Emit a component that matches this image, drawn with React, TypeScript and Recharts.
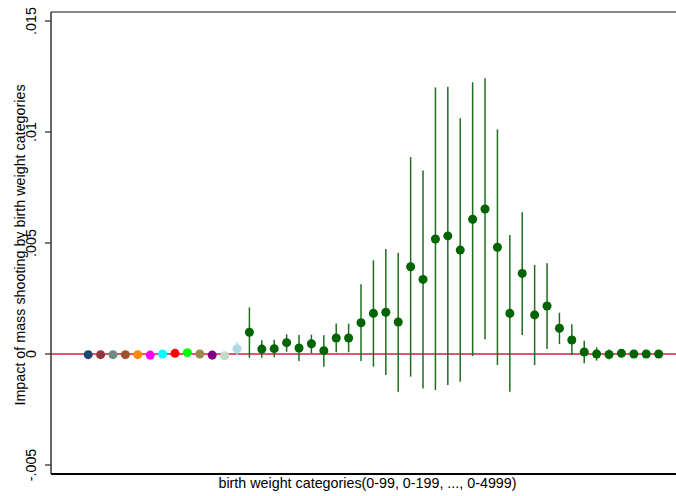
import React from "react";
import {
  ComposedChart,
  Scatter,
  XAxis,
  YAxis,
  ErrorBar,
  ReferenceLine,
  Cell,
} from "recharts";

// Leading category estimates (no visible CI), categories 1..12
const leadIdx = [1, 2, 3, 4, 5, 6, 7, 8, 9, 10, 11, 12];
const leadVals = [-0.00003, -0.00003, -0.00003, -0.00003, -0.00003, -0.00005, 0.0, 0.00003, 0.00006, 0.0, -0.00005, -0.00008];
const leadColors = [
  "#1a476f", "#90353b", "#6e8e84", "#a0522d", "#ff8c00", "#ff00ff",
  "#00ffff", "#ff0000", "#00ff00", "#9c8847", "#800080", "#c3dcc3",
];

// Category 13 (light blue)
const blueIdx = [13];
const blueVals = [0.00024];
const blueLow = [-0.00005];
const blueHigh = [0.00053];

// Categories 14..47 (dark green)
const greenIdx = [
  14, 15, 16, 17, 18, 19, 20, 21, 22, 23, 24, 25, 26, 27, 28, 29, 30,
  31, 32, 33, 34, 35, 36, 37, 38, 39, 40, 41, 42, 43, 44, 45, 46, 47,
];
const greenVals = [
  0.00098, 0.00022, 0.00024, 0.00051, 0.00027, 0.00046, 0.00015, 0.00072, 0.00072, 0.00141,
  0.00183, 0.00188, 0.00144, 0.00393, 0.00336, 0.00518, 0.00532, 0.00468, 0.00607, 0.00653,
  0.00481, 0.00183, 0.00363, 0.00176, 0.00216, 0.00116, 0.00063, 0.00009, 0.0, -0.00002,
  0.00003, 0.0, 0.0, 0.0,
];
const greenLow = [
  -0.00017, -0.00017, -0.00015, 0.0001, -0.00032, 0.00003, -0.00057, 0.00008, 0.00008, -0.00032,
  -0.00057, -0.00095, -0.0017, -0.00102, -0.00155, -0.00162, -0.0014, -0.00125, -0.00009, 0.00066,
  -0.0005, -0.0017, 0.00086, -0.0005, 0.00023, 0.00045, -0.00005, -0.00042, -0.0003, -0.00024,
  -0.00007, -0.0001, -0.00008, -0.00008,
];
const greenHigh = [
  0.0021, 0.00062, 0.00064, 0.00089, 0.00086, 0.00087, 0.00084, 0.00137, 0.00137, 0.00314,
  0.00422, 0.00473, 0.00456, 0.00887, 0.00827, 0.012, 0.01204, 0.01062, 0.01224, 0.01242,
  0.01012, 0.00536, 0.00638, 0.00401, 0.00409, 0.00186, 0.00134, 0.0006, 0.0003, 0.0002,
  0.00013, 0.0001, 0.00008, 0.00008,
];

const yTicks = [-0.005, 0, 0.005, 0.01, 0.015];
const yTickLabels = ["-.005", "0", ".005", ".01", ".015"];
const Y_MIN = -0.005405;
const Y_MAX = 0.015405;
const X_MIN = -2;
const X_MAX = 48.4;

const yLabel = "Impact of mass shooting by birth weight categories";
const xLabel = "birth weight categories(0-99, 0-199, ..., 0-4999)";

const FONT = "'Liberation Sans', Arial, sans-serif";
const FS = 14.3;

const leadData = leadIdx.map((x, i) => ({ x, y: leadVals[i] }));
const blueData = blueIdx.map((x, i) => ({
  x,
  y: blueVals[i],
  err: [blueVals[i] - blueLow[i], blueHigh[i] - blueVals[i]],
}));
const greenData = greenIdx.map((x, i) => ({
  x,
  y: greenVals[i],
  err: [greenVals[i] - greenLow[i], greenHigh[i] - greenVals[i]],
}));

const YTick = (props: any) => {
  const { x, y, payload } = props;
  const idx = yTicks.indexOf(payload.value);
  const label = idx >= 0 ? yTickLabels[idx] : String(payload.value);
  return (
    <g>
      <line x1={x + 2} x2={x + 8} y1={y} y2={y} stroke="#333" strokeWidth={1.3} />
      <text
        x={x - 12}
        y={y}
        transform={`rotate(-90, ${x - 12}, ${y})`}
        textAnchor="middle"
        dominantBaseline="central"
        fontSize={FS}
        fontFamily={FONT}
        fill="#000"
      >
        {label}
      </text>
    </g>
  );
};

const YLabel = (props: any) => {
  const vb = props.viewBox || {};
  const cx = (vb.x ?? 8) + 12;
  const cy = (vb.y ?? 12) + (vb.height ?? 462) / 2 + 2;
  return (
    <text
      x={cx}
      y={cy}
      transform={`rotate(-90, ${cx}, ${cy})`}
      textAnchor="middle"
      dominantBaseline="central"
      fontSize={FS}
      fontFamily={FONT}
      fill="#000"
    >
      {yLabel}
    </text>
  );
};

const XLabel = (props: any) => {
  const vb = props.viewBox || {};
  const cx = (vb.x ?? 51) + (vb.width ?? 625) / 2 + 4;
  const cy = (vb.y ?? 474) + 9;
  return (
    <text
      x={cx}
      y={cy}
      textAnchor="middle"
      dominantBaseline="central"
      fontSize={FS}
      fontFamily={FONT}
      fill="#000"
    >
      {xLabel}
    </text>
  );
};

export default function App() {
  return (
    <div style={{ position: "absolute", left: 0, top: 0, width: 676, height: 496, background: "#fff" }}>
      <ComposedChart
        width={676}
        height={496}
        margin={{ top: 12, right: 0, bottom: 0, left: 8 }}
      >
        <XAxis
          type="number"
          dataKey="x"
          domain={[X_MIN, X_MAX]}
          allowDataOverflow
          ticks={[]}
          tick={false}
          tickLine={false}
          height={22}
          axisLine={{ stroke: "#000", strokeWidth: 2 }}
          label={<XLabel />}
        />
        <YAxis
          type="number"
          dataKey="y"
          domain={[Y_MIN, Y_MAX]}
          allowDataOverflow
          ticks={yTicks}
          interval={0}
          width={43}
          tickLine={false}
          tick={<YTick />}
          axisLine={{ stroke: "#333", strokeWidth: 1.5 }}
          label={<YLabel />}
        />
        <ReferenceLine y={Y_MAX} stroke="#888" strokeWidth={2} />
        <ReferenceLine y={0} stroke="#dc1848" strokeWidth={1.5} />
        <Scatter data={leadData} isAnimationActive={false} shape="circle">
          {leadData.map((d, i) => (
            <Cell key={i} fill={leadColors[i]} />
          ))}
        </Scatter>
        <Scatter data={blueData} fill="#add8e6" isAnimationActive={false}>
          <ErrorBar dataKey="err" direction="y" width={0} stroke="#add8e6" strokeWidth={1.5} isAnimationActive={false} />
        </Scatter>
        <Scatter data={greenData} fill="#006400" isAnimationActive={false}>
          <ErrorBar dataKey="err" direction="y" width={0} stroke="#1f6e1f" strokeWidth={1.5} isAnimationActive={false} />
        </Scatter>
      </ComposedChart>
    </div>
  );
}
